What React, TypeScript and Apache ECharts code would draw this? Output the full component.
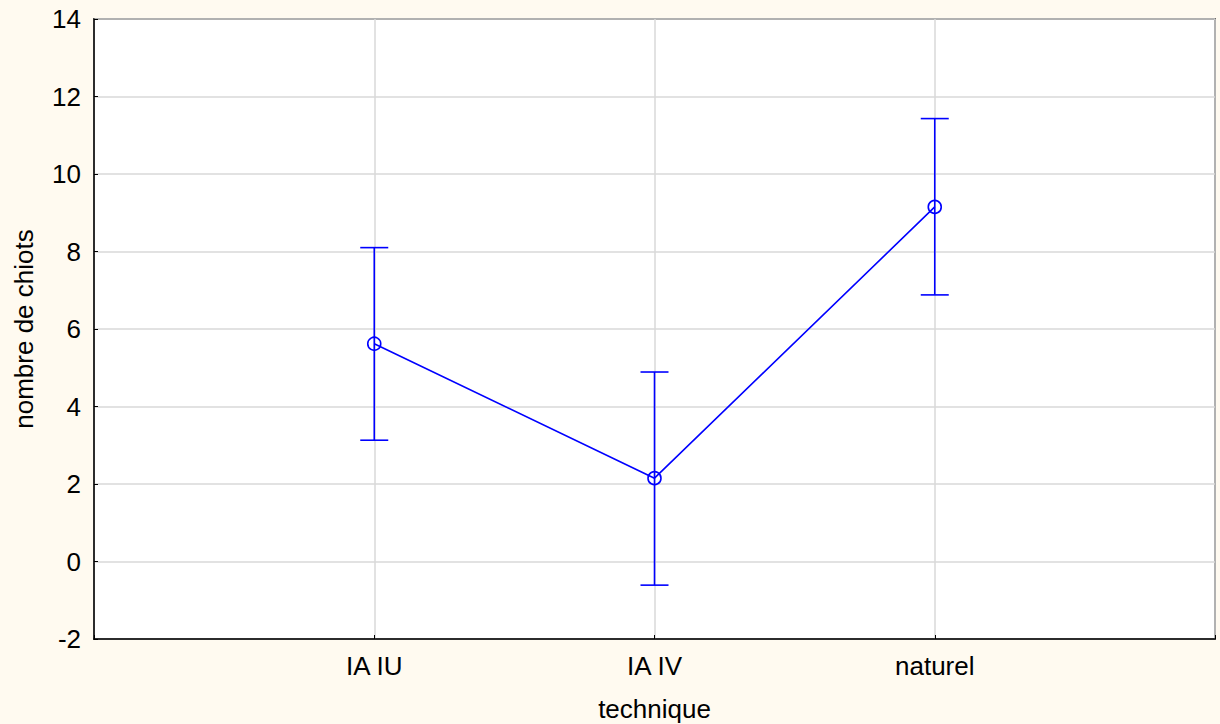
import React, { useEffect, useRef } from "react";
import * as echarts from "echarts";

const categories = ["IA IU", "IA IV", "naturel"];
const means = [5.62, 2.15, 9.15];
const upper = [8.1, 4.89, 11.43];
const lower = [3.13, -0.61, 6.88];
const yTicks = { min: -2, max: 14, interval: 2 };

export default function App() {
  const ref = useRef<HTMLDivElement>(null);
  useEffect(() => {
    const chart = echarts.init(ref.current!, null, { renderer: "svg" });
    const font = "'Liberation Sans', Arial, sans-serif";
    const blue = "#0000FF";
    const fs = 26;
    const lineData = means.map((m, i) => [i + 1, m]);
    const errData = categories.map((_, i) => [i + 1, lower[i], upper[i]]);
    chart.setOption({
      animation: false,
      backgroundColor: "#FFFAF0",
      textStyle: { fontFamily: font },
      grid: {
        left: 94,
        top: 19,
        right: 5,
        bottom: 85,
        outerBoundsMode: "none",
        containLabel: false,
        show: true,
        backgroundColor: "#FFFFFF",
        borderColor: "#000",
        borderWidth: 1.5,
      },
      xAxis: {
        type: "value",
        min: 0,
        max: 4,
        interval: 1,
        name: "technique",
        nameLocation: "middle",
        nameGap: 57,
        nameTextStyle: { fontSize: fs, lineHeight: 26, color: "#000", fontFamily: font },
        axisLine: { show: true, onZero: false, lineStyle: { color: "#000", width: 1.5 } },
        axisTick: { show: true, inside: true, length: 4, lineStyle: { color: "#000" } },
        axisLabel: {
          fontSize: fs,
          color: "#000",
          fontFamily: font,
          margin: 14,
          formatter: (v: number) => (v >= 1 && v <= 3 ? categories[v - 1] : ""),
        },
        splitLine: { show: true, lineStyle: { color: "#D9D9D9", width: 1.5 } },
      },
      yAxis: {
        type: "value",
        min: yTicks.min,
        max: yTicks.max,
        interval: yTicks.interval,
        name: "nombre de chiots",
        nameLocation: "middle",
        nameGap: 57,
        nameTextStyle: { fontSize: fs, color: "#000", fontFamily: font },
        axisLine: { show: true, onZero: false, lineStyle: { color: "#000", width: 1.5 } },
        axisTick: { show: true, inside: true, length: 4, lineStyle: { color: "#000" } },
        axisLabel: { fontSize: fs, color: "#000", fontFamily: font, margin: 13 },
        splitLine: { show: true, lineStyle: { color: "#D9D9D9", width: 1.5 } },
      },
      series: [
        {
          type: "custom",
          data: errData,
          renderItem: (params: any, api: any) => {
            const x = api.value(0);
            const lo = api.coord([x, api.value(1)]);
            const hi = api.coord([x, api.value(2)]);
            const hw = 14;
            const style = { stroke: blue, lineWidth: 1.6 };
            return {
              type: "group",
              children: [
                { type: "line", shape: { x1: lo[0], y1: lo[1], x2: hi[0], y2: hi[1] }, style },
                { type: "line", shape: { x1: hi[0] - hw, y1: hi[1], x2: hi[0] + hw, y2: hi[1] }, style },
                { type: "line", shape: { x1: lo[0] - hw, y1: lo[1], x2: lo[0] + hw, y2: lo[1] }, style },
              ],
            };
          },
          z: 2,
        },
        {
          type: "line",
          data: lineData,
          symbol: "circle",
          symbolSize: 13,
          showSymbol: true,
          lineStyle: { color: blue, width: 1.6 },
          itemStyle: { color: "rgba(255,255,255,0)", borderColor: blue, borderWidth: 1.6 },
          z: 3,
        },
      ],
    });
    return () => chart.dispose();
  }, []);
  return (
    <div
      ref={ref}
      style={{ position: "fixed", left: 0, top: 0, width: 1220, height: 724 }}
    />
  );
}
